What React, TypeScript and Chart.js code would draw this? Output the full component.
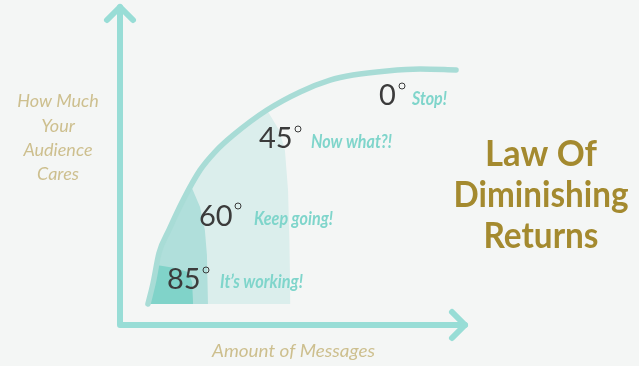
import React, { useEffect, useRef } from 'react';
import { Chart, registerables } from 'chart.js';

Chart.register(...registerables);

// Curve: "How much your audience cares" vs "Amount of messages" (0-100 scales)
const curveX = [8.1, 9.6, 11.3, 14.2, 18.3, 23.2, 27.5, 32.8, 42.6, 52.2, 60.9, 67.5, 77.4, 87.0, 97.4];
const curveY = [6.6, 13.2, 22.6, 29.9, 39.3, 48.7, 54.4, 59.7, 67.6, 73.3, 77.0, 78.6, 79.9, 80.5, 80.2];
const baseline = 6.6;

// Right-hand boundaries of the shaded zones
const zone45EdgeX = [42.6, 46.1, 47.8, 48.7, 49.1, 49.4];
const zone45EdgeY = [67.6, 61.3, 55.0, 42.5, 26.7, 6.6];
const zone60EdgeX = [20.6, 23.2, 24.6, 25.2, 25.5];
const zone60EdgeY = [43.7, 37.1, 29.9, 22.0, 6.6];
const zone85EdgeX = [10.6, 15.9, 19.7, 20.9, 21.2];
const zone85EdgeY = [18.9, 17.9, 16.7, 13.5, 6.6];

const angles = ['85', '60', '45', '0'];
const stages = ['It\u2019s working!', 'Keep going!', 'Now what?!', 'Stop!'];
const titleLines = ['Law Of', 'Diminishing', 'Returns'];
const yTitleLines = ['How Much', 'Your', 'Audience', 'Cares'];
const xTitle = 'Amount of Messages';

const BG = '#f4f6f5';
const AXIS = '#98ddd6';
const CURVE = '#a8dcd6';
const LIGHT = '#dbeeec';
const MID = '#b0dfdb';
const DARK = '#80d3c9';
const TEAL_TEXT = '#7fd5cb';
const KHAKI = '#cdbf8e';
const GOLD = '#a48a2f';
const DIGIT = '#3b3b3b';

function zone(edgeX: number[], edgeY: number[]) {
  const pts: { x: number; y: number }[] = [];
  for (let i = 0; i < curveX.length; i++) {
    if (curveX[i] < edgeX[0]) pts.push({ x: curveX[i], y: curveY[i] });
  }
  for (let i = 0; i < edgeX.length; i++) pts.push({ x: edgeX[i], y: edgeY[i] });
  return pts;
}

// draw text stretched/compressed to a given width
function fitText(ctx: CanvasRenderingContext2D, text: string, x: number, y: number, width: number, align: 'left' | 'center') {
  const w = ctx.measureText(text).width;
  ctx.save();
  ctx.textAlign = 'left';
  ctx.translate(x, y);
  ctx.scale(width / w, 1);
  ctx.fillText(text, align === 'center' ? -w / 2 : 0, 0);
  ctx.restore();
}

const decorPlugin = {
  id: 'decor',
  beforeDatasetsDraw(chart: any) {
    const { ctx, chartArea } = chart;
    const { left, right, top, bottom } = chartArea;
    ctx.save();
    ctx.strokeStyle = AXIS;
    ctx.lineWidth = 6;
    ctx.lineCap = 'round';
    ctx.lineJoin = 'round';
    ctx.beginPath();
    ctx.moveTo(left, top);
    ctx.lineTo(left, bottom);
    ctx.lineTo(right, bottom);
    ctx.stroke();
    ctx.beginPath();
    ctx.moveTo(left - 13, top + 13);
    ctx.lineTo(left, top);
    ctx.lineTo(left + 13, top + 13);
    ctx.stroke();
    ctx.beginPath();
    ctx.moveTo(right - 13, bottom - 13);
    ctx.lineTo(right, bottom);
    ctx.lineTo(right - 13, bottom + 13);
    ctx.stroke();
    ctx.restore();
  },
  afterDraw(chart: any) {
    const { ctx } = chart;
    ctx.save();
    ctx.textBaseline = 'alphabetic';

    // Title
    ctx.fillStyle = GOLD;
    ctx.font = 'bold 36px Lato';
    const titleBase = [166, 207, 248];
    const titleW = [112, 175, 115];
    titleLines.forEach((t, i) => fitText(ctx, t, 541, titleBase[i], titleW[i], 'center'));

    // Y title
    ctx.fillStyle = KHAKI;
    ctx.textAlign = 'center';
    ctx.font = 'italic 18px Lato';
    const yBase = [107, 131.5, 155.5, 180];
    yTitleLines.forEach((t, i) => ctx.fillText(t, 58, yBase[i]));

    // X title
    fitText(ctx, xTitle, 293.5, 357, 163, 'center');

    // Angles
    ctx.textAlign = 'left';
    const ax = [167, 199, 259, 379];
    const ay = [289, 226, 148, 105];
    const ringX = [206, 238, 298, 402];
    const ringY = [270, 206, 129, 86];
    ctx.fillStyle = DIGIT;
    ctx.strokeStyle = DIGIT;
    ctx.lineWidth = 1;
    ctx.font = '29px Lato';
    angles.forEach((a, i) => {
      ctx.fillText(a, ax[i], ay[i]);
      ctx.beginPath();
      ctx.arc(ringX[i], ringY[i], 3, 0, Math.PI * 2);
      ctx.stroke();
    });

    // Stage labels
    ctx.fillStyle = TEAL_TEXT;
    ctx.font = 'italic bold 18px Lato';
    const sx = [220, 254, 311, 412];
    const sy = [288, 225, 148, 105];
    const sw = [83, 79, 81, 35];
    stages.forEach((s, i) => fitText(ctx, s, sx[i], sy[i], sw[i], 'left'));
    ctx.restore();
  },
};

export default function App() {
  const ref = useRef<HTMLCanvasElement>(null);
  useEffect(() => {
    if (!ref.current) return;
    const curve = curveX.map((x, i) => ({ x, y: curveY[i] }));
    const chart = new Chart(ref.current, {
      type: 'line',
      data: {
        datasets: [
          {
            data: curve,
            borderColor: CURVE,
            borderWidth: 5.5,
            borderCapStyle: 'round',
            cubicInterpolationMode: 'monotone',
            pointRadius: 0,
            fill: false,
          },
          {
            data: zone(zone85EdgeX, zone85EdgeY),
            borderWidth: 0,
            borderColor: 'rgba(0,0,0,0)',
            backgroundColor: DARK,
            pointRadius: 0,
            tension: 0,
            fill: { value: baseline },
          },
          {
            data: zone(zone60EdgeX, zone60EdgeY),
            borderWidth: 0,
            borderColor: 'rgba(0,0,0,0)',
            backgroundColor: MID,
            pointRadius: 0,
            tension: 0,
            fill: { value: baseline },
          },
          {
            data: zone(zone45EdgeX, zone45EdgeY),
            borderWidth: 0,
            borderColor: 'rgba(0,0,0,0)',
            backgroundColor: LIGHT,
            pointRadius: 0,
            tension: 0,
            fill: { value: baseline },
          },
        ],
      } as any,
      options: {
        animation: false,
        responsive: false,
        devicePixelRatio: 1,
        layout: { padding: { left: 120, right: 174, top: 7, bottom: 41 } },
        plugins: { legend: { display: false }, tooltip: { enabled: false } },
        scales: {
          x: { type: 'linear', min: 0, max: 100, display: false },
          y: { type: 'linear', min: 0, max: 100, display: false },
        },
      } as any,
      plugins: [decorPlugin],
    });
    return () => chart.destroy();
  }, []);

  return (
    <div style={{ position: 'fixed', left: 0, top: 0, width: 639, height: 366, background: BG }}>
      <canvas ref={ref} width={639} height={366} style={{ display: 'block', width: 639, height: 366 }} />
    </div>
  );
}
